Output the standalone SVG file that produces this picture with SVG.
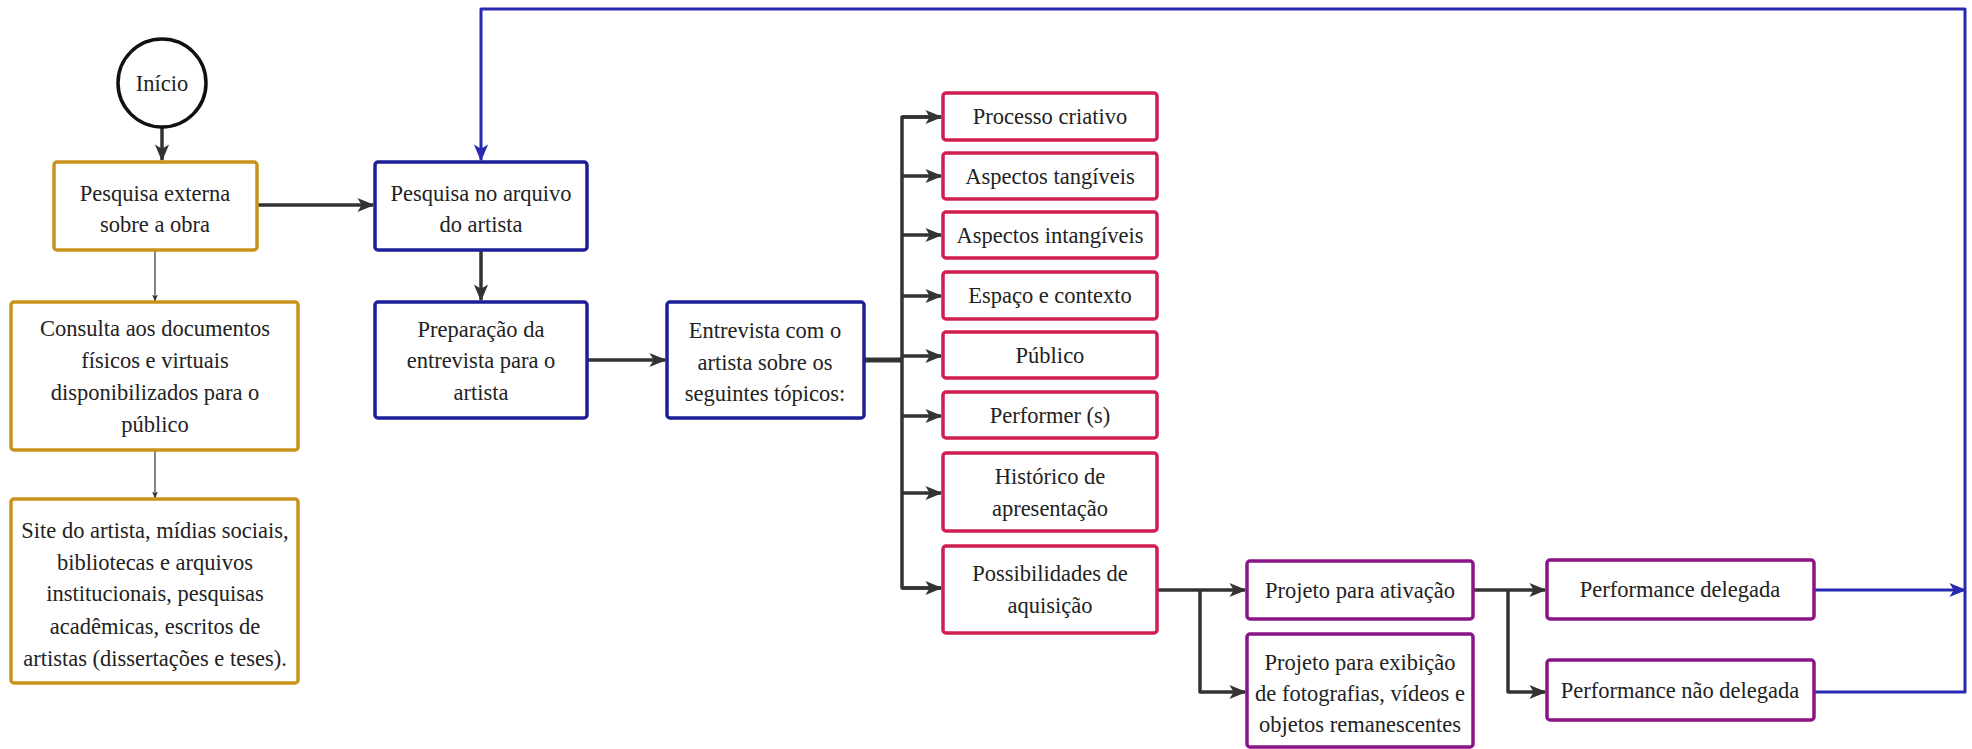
<svg xmlns="http://www.w3.org/2000/svg" width="1972" height="749" viewBox="0 0 1972 749">
<style>
text{font-family:"Liberation Serif","Times New Roman",serif;font-size:22.5px;fill:#222;text-anchor:middle}
.gold{fill:#fff;stroke:#C8921C;stroke-width:3.5}
.blue{fill:#fff;stroke:#1E1E96;stroke-width:3.5}
.red{fill:#fff;stroke:#D01E50;stroke-width:3.5}
.purp{fill:#fff;stroke:#8A1588;stroke-width:3.5}
.c{fill:none;stroke:#333;stroke-width:3.5;stroke-linejoin:round}
.thin{fill:none;stroke:#333;stroke-width:1.2}
.loop{fill:none;stroke:#2828B0;stroke-width:3;stroke-linejoin:round}
</style>
<defs>
<marker id="arr" viewBox="0 0 12 12" markerWidth="17" markerHeight="17" refX="11" refY="6" orient="auto" markerUnits="userSpaceOnUse"><path d="M0,1 L12,6 L0,11 L3,6 z" fill="#333"/></marker>
<marker id="arrs" viewBox="0 0 12 12" markerWidth="7" markerHeight="7" refX="11" refY="6" orient="auto" markerUnits="userSpaceOnUse"><path d="M0,1 L12,6 L0,11 L3,6 z" fill="#333"/></marker>
<marker id="arrb" viewBox="0 0 12 12" markerWidth="17" markerHeight="17" refX="11" refY="6" orient="auto" markerUnits="userSpaceOnUse"><path d="M0,1 L12,6 L0,11 L3,6 z" fill="#2828B0"/></marker>
</defs>
<rect width="1972" height="749" fill="#fff"/>
<g id="connectors">
<path class="c" d="M162 127 V160" marker-end="url(#arr)"/>
<path class="c" d="M257 205 H373" marker-end="url(#arr)"/>
<path class="thin" d="M155 250 V301" marker-end="url(#arrs)"/>
<path class="thin" d="M155 450 V498" marker-end="url(#arrs)"/>
<path class="c" d="M481 250 V300" marker-end="url(#arr)"/>
<path class="c" d="M587 360 H665" marker-end="url(#arr)"/>
<path class="c" d="M864 360 H902" style="stroke-width:5"/>
<path class="c" d="M941 117 H902 V588 H941"/>
<path class="c" d="M902 117 H941" marker-end="url(#arr)"/>
<path class="c" d="M902 176 H941" marker-end="url(#arr)"/>
<path class="c" d="M902 235 H941" marker-end="url(#arr)"/>
<path class="c" d="M902 296 H941" marker-end="url(#arr)"/>
<path class="c" d="M902 356 H941" marker-end="url(#arr)"/>
<path class="c" d="M902 416 H941" marker-end="url(#arr)"/>
<path class="c" d="M902 493 H941" marker-end="url(#arr)"/>
<path class="c" d="M902 588 H941" marker-end="url(#arr)"/>
<path class="c" d="M1157 590 H1245" marker-end="url(#arr)"/>
<path class="c" d="M1200 590 V692 H1245" marker-end="url(#arr)"/>
<path class="c" d="M1473 590 H1545" marker-end="url(#arr)"/>
<path class="c" d="M1508 590 V692 H1545" marker-end="url(#arr)"/>
<path class="loop" d="M1814 590 H1965" marker-end="url(#arrb)"/>
<path class="loop" d="M1814 692 H1965 V9 H481 V160" marker-end="url(#arrb)"/>
</g>
<g id="inicio"><circle cx="162" cy="83" r="44" fill="#fff" stroke="#111" stroke-width="3.5"/><text x="162" y="91">Início</text></g>
<g id="pesquisa-externa"><rect class="gold" x="54" y="162" width="203" height="88" rx="3"/><text x="155" y="201">Pesquisa externa</text><text x="155" y="232">sobre a obra</text></g>
<g id="consulta"><rect class="gold" x="11" y="302" width="287" height="148" rx="3"/><text x="155" y="336">Consulta aos documentos</text><text x="155" y="368">físicos e virtuais</text><text x="155" y="400">disponibilizados para o</text><text x="155" y="432">público</text></g>
<g id="site"><rect class="gold" x="11" y="499" width="287" height="184" rx="3"/><text x="155" y="538">Site do artista, mídias sociais,</text><text x="155" y="570">bibliotecas e arquivos</text><text x="155" y="601">institucionais, pesquisas</text><text x="155" y="634">acadêmicas, escritos de</text><text x="155" y="666">artistas (dissertações e teses).</text></g>
<g id="pesquisa-arquivo"><rect class="blue" x="375" y="162" width="212" height="88" rx="3"/><text x="481" y="201">Pesquisa no arquivo</text><text x="481" y="232">do artista</text></g>
<g id="preparacao"><rect class="blue" x="375" y="302" width="212" height="116" rx="3"/><text x="481" y="337">Preparação da</text><text x="481" y="368">entrevista para o</text><text x="481" y="400">artista</text></g>
<g id="entrevista"><rect class="blue" x="667" y="302" width="197" height="116" rx="3"/><text x="765" y="338">Entrevista com o</text><text x="765" y="370">artista sobre os</text><text x="765" y="401">seguintes tópicos:</text></g>
<g id="processo"><rect class="red" x="943" y="93" width="214" height="47" rx="3"/><text x="1050" y="124">Processo criativo</text></g>
<g id="tangiveis"><rect class="red" x="943" y="153" width="214" height="46" rx="3"/><text x="1050" y="184">Aspectos tangíveis</text></g>
<g id="intangiveis"><rect class="red" x="943" y="212" width="214" height="46" rx="3"/><text x="1050" y="243">Aspectos intangíveis</text></g>
<g id="espaco"><rect class="red" x="943" y="272" width="214" height="47" rx="3"/><text x="1050" y="303">Espaço e contexto</text></g>
<g id="publico"><rect class="red" x="943" y="332" width="214" height="46" rx="3"/><text x="1050" y="363">Público</text></g>
<g id="performer"><rect class="red" x="943" y="392" width="214" height="46" rx="3"/><text x="1050" y="423">Performer (s)</text></g>
<g id="historico"><rect class="red" x="943" y="453" width="214" height="78" rx="3"/><text x="1050" y="484">Histórico de</text><text x="1050" y="516">apresentação</text></g>
<g id="possibilidades"><rect class="red" x="943" y="546" width="214" height="87" rx="3"/><text x="1050" y="581">Possibilidades de</text><text x="1050" y="613">aquisição</text></g>
<g id="ativacao"><rect class="purp" x="1247" y="561" width="226" height="58" rx="3"/><text x="1360" y="598">Projeto para ativação</text></g>
<g id="exibicao"><rect class="purp" x="1247" y="634" width="226" height="113" rx="3"/><text x="1360" y="670">Projeto para exibição</text><text x="1360" y="701">de fotografias, vídeos e</text><text x="1360" y="732">objetos remanescentes</text></g>
<g id="delegada"><rect class="purp" x="1547" y="560" width="267" height="59" rx="3"/><text x="1680" y="597">Performance delegada</text></g>
<g id="nao-delegada"><rect class="purp" x="1547" y="660" width="267" height="60" rx="3"/><text x="1680" y="698">Performance não delegada</text></g>
</svg>
